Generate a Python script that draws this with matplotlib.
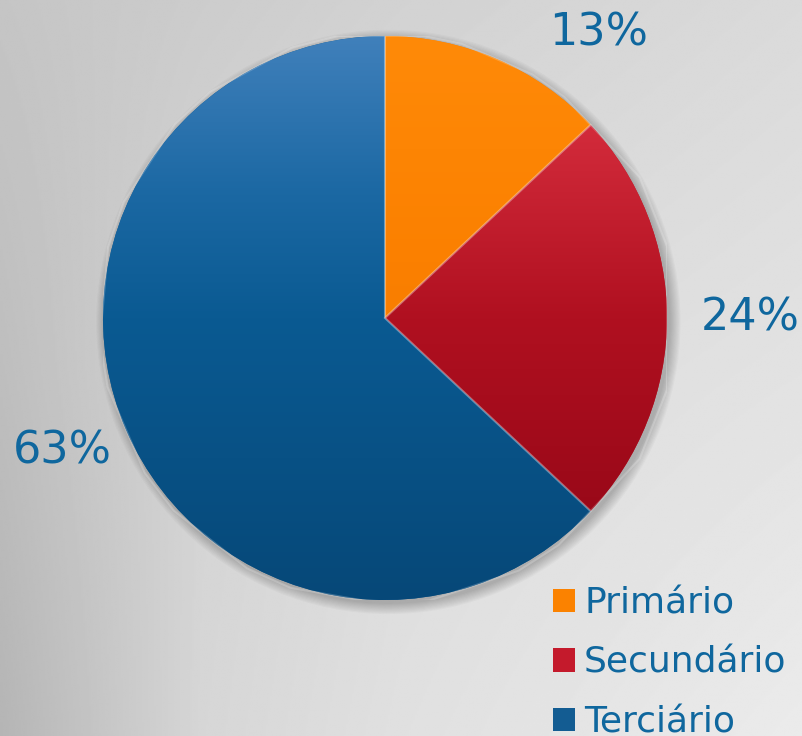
import numpy as np
import matplotlib
matplotlib.use("Agg")
import matplotlib.pyplot as plt
from matplotlib.colors import LinearSegmentedColormap
from matplotlib.patches import Patch, Circle

# data
setores = ["Primário", "Secundário", "Terciário"]
percentuais = [13, 24, 63]
rotulos = ["13%", "24%", "63%"]

# base colours + vertical gradient stops (bottom -> top) for each slice
cores = ["#fb8200", "#c41a2c", "#135c92"]
grad_cores = [
    [(0.0, "#ec7200"), (0.6, "#fb8000"), (1.0, "#ff8a08")],
    [(0.0, "#8f0515"), (0.5, "#b01020"), (0.85, "#d42c3c"), (1.0, "#dc3444")],
    [(0.0, "#064878"), (0.5, "#0a5a92"), (0.72, "#1b68a3"), (1.0, "#4080bb")],
]
cor_texto = "#0f679e"

fig = plt.figure(figsize=(8.03, 7.36), dpi=100)

# gray gradient background (smooth interpolation of a few sampled tones)
gx = [0.0, 0.25, 0.5, 1.0]
gy = [0.0, 0.5, 1.0]  # 0 = bottom
tons = np.array([[181, 214, 224, 235],
                 [190, 212, 220, 226],
                 [197, 204, 210, 218]]) / 255.0
xs = np.linspace(0, 1, 400)
ys = np.linspace(0, 1, 400)
rows = np.array([np.interp(xs, gx, r) for r in tons])
fundo = np.array([[np.interp(yv, gy, rows[:, j]) for j in range(len(xs))] for yv in ys])
bg = fig.add_axes([0, 0, 1, 1], zorder=-10)
bg.imshow(fundo, cmap="gray", vmin=0, vmax=1, interpolation="bilinear",
          extent=(0, 1, 0, 1), aspect="auto", origin="lower")
bg.set_axis_off()

ax = fig.add_axes([103 / 803, 1 - 600 / 736, 564 / 803, 564 / 736])

# soft shadow behind the pie
for i in range(10):
    ax.add_patch(Circle((0.012, -0.014), 1.0 + 0.004 * i, color="black",
                        alpha=0.022, lw=0, zorder=0, clip_on=False))

wedges, _ = ax.pie(percentuais, colors=cores, startangle=90, counterclock=False,
                   radius=1, wedgeprops=dict(linewidth=0, zorder=1))

y = np.linspace(1, 0, 256).reshape(-1, 1)
for w, stops in zip(wedges, grad_cores):
    cmap = LinearSegmentedColormap.from_list("g", stops)
    im = ax.imshow(y, cmap=cmap, vmin=0, vmax=1, extent=(-1, 1, -1, 1),
                   aspect="auto", interpolation="bilinear", zorder=2)
    im.set_clip_path(w)
    # light bevel on the slice edge
    ax.add_patch(plt.Polygon(w.get_path().vertices, closed=True, fill=False,
                             edgecolor="white", alpha=0.2, lw=1.5, zorder=3))

ax.set_xlim(-1, 1)
ax.set_ylim(-1, 1)
ax.set_aspect("equal")
ax.set_axis_off()

# percentage labels
pos = [(599, 33), (750, 318), (62, 451)]
for (px, py), t in zip(pos, rotulos):
    fig.text(px / 803, 1 - py / 736, t, fontsize=32, color=cor_texto,
             ha="center", va="center")

handles = [Patch(facecolor=c, edgecolor="none") for c in cores]
fig.legend(handles, setores, loc="upper left",
           bbox_to_anchor=(553 / 803, 1 - 586 / 736), frameon=False,
           fontsize=26, labelcolor=cor_texto, handlelength=0.61,
           handleheight=0.61, handletextpad=0.25, labelspacing=0.71,
           borderpad=0, borderaxespad=0)

fig.savefig("out.png", dpi=100)
